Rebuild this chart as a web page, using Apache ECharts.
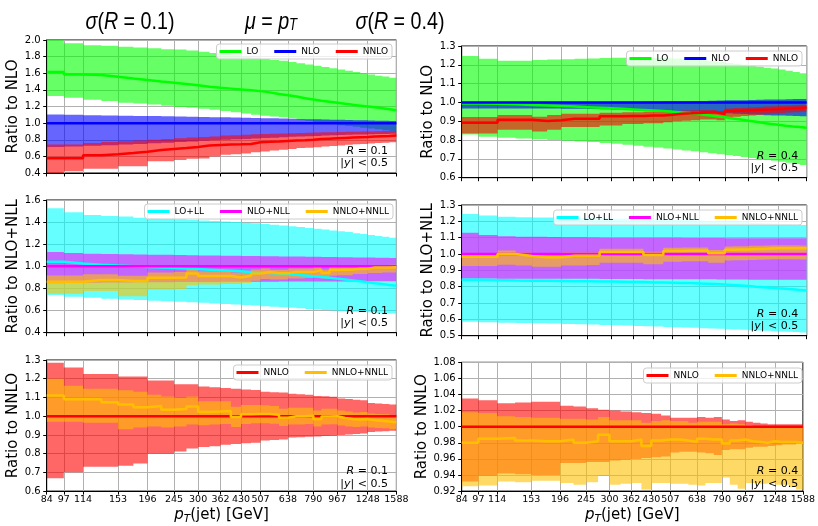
<!DOCTYPE html>
<html>
<head>
<meta charset="utf-8">
<script src="https://cdn.jsdelivr.net/npm/echarts@6/dist/echarts.min.js"></script>
<style>
  html, body { margin: 0; padding: 0; background: #ffffff; }
  #chart { width: 818px; height: 526px; }
</style>
</head>
<body>
<div id="chart"></div>
<script>
// Jet pT bin edges [GeV] and the labelled ticks on the log axis
const ptEdges = [84, 97, 114, 133, 153, 174, 196, 220, 245, 272, 300, 330, 362, 395, 430, 468, 507, 548, 592, 638, 686, 737, 790, 846, 905, 967, 1032, 1101, 1172, 1248, 1327, 1410, 1497, 1588];
const ptTicks = [84, 97, 114, 153, 196, 245, 300, 362, 430, 507, 638, 790, 967, 1248, 1588];

// ---- R = 0.1, ratio to NLO ----
const r1_LO     = [1.614,1.586,1.578,1.558,1.538,1.52,1.50,1.485,1.47,1.455,1.437,1.425,1.415,1.405,1.395,1.385,1.37,1.35,1.335,1.32,1.30,1.285,1.27,1.258,1.245,1.232,1.22,1.21,1.20,1.19,1.18,1.168,1.156];
const r1_LO_up  = [2.01,1.96,1.936,1.93,1.92,1.91,1.90,1.89,1.885,1.875,1.86,1.845,1.835,1.82,1.80,1.79,1.775,1.76,1.75,1.735,1.72,1.705,1.69,1.675,1.66,1.645,1.63,1.615,1.60,1.585,1.57,1.56,1.546];
const r1_LO_dn  = [1.325,1.305,1.28,1.265,1.245,1.235,1.225,1.21,1.195,1.185,1.172,1.16,1.145,1.13,1.115,1.10,1.09,1.08,1.07,1.06,1.045,1.03,1.015,1.0,0.99,0.975,0.965,0.955,0.945,0.935,0.925,0.915,0.905];
const r1_NLO    = [1.0,1.0,1.0,1.0,1.0,1.0,1.0,1.0,1.0,1.0,1.0,1.0,1.0,1.0,1.0,1.0,1.0,1.0,1.0,1.0,1.0,1.0,1.0,1.0,1.0,1.0,1.0,1.0,1.0,1.0,1.0,1.0,1.0];
const r1_NLO_up = [1.105,1.10,1.095,1.092,1.09,1.087,1.085,1.083,1.08,1.078,1.075,1.072,1.07,1.067,1.065,1.062,1.06,1.058,1.055,1.052,1.05,1.048,1.046,1.044,1.042,1.04,1.038,1.036,1.034,1.032,1.03,1.028,1.025];
const r1_NLO_dn = [0.713,0.72,0.728,0.735,0.743,0.75,0.757,0.765,0.772,0.78,0.787,0.795,0.80,0.805,0.81,0.815,0.82,0.825,0.83,0.835,0.84,0.843,0.846,0.85,0.853,0.856,0.86,0.862,0.864,0.866,0.868,0.87,0.872];
const r1_NNLO    = [0.577,0.577,0.613,0.625,0.64,0.657,0.677,0.69,0.70,0.713,0.73,0.738,0.742,0.745,0.75,0.77,0.775,0.78,0.785,0.79,0.795,0.80,0.808,0.813,0.818,0.822,0.826,0.83,0.834,0.838,0.842,0.846,0.85];
const r1_NNLO_up = [0.742,0.742,0.762,0.772,0.782,0.792,0.80,0.81,0.818,0.826,0.832,0.84,0.85,0.855,0.86,0.865,0.87,0.873,0.876,0.879,0.882,0.885,0.887,0.889,0.891,0.893,0.895,0.897,0.899,0.90,0.902,0.904,0.906];
const r1_NNLO_dn = [0.40,0.42,0.452,0.452,0.48,0.48,0.54,0.54,0.555,0.57,0.575,0.60,0.62,0.625,0.635,0.65,0.66,0.67,0.68,0.69,0.70,0.705,0.71,0.72,0.725,0.73,0.74,0.745,0.75,0.755,0.76,0.765,0.77];

// ---- R = 0.4, ratio to NLO ----
const r4_LO     = [0.995,0.993,0.99,0.987,0.984,0.981,0.978,0.975,0.972,0.969,0.966,0.963,0.96,0.957,0.954,0.95,0.946,0.942,0.937,0.932,0.927,0.921,0.915,0.909,0.903,0.897,0.891,0.886,0.881,0.876,0.872,0.869,0.866];
const r4_LO_up  = [1.247,1.232,1.222,1.222,1.225,1.228,1.23,1.232,1.234,1.236,1.238,1.238,1.238,1.237,1.236,1.235,1.233,1.23,1.227,1.224,1.22,1.215,1.21,1.205,1.20,1.195,1.19,1.185,1.18,1.175,1.168,1.162,1.155];
const r4_LO_dn  = [0.83,0.818,0.812,0.808,0.805,0.80,0.797,0.793,0.79,0.785,0.78,0.775,0.77,0.765,0.76,0.755,0.75,0.745,0.74,0.735,0.73,0.725,0.72,0.715,0.71,0.705,0.70,0.695,0.69,0.685,0.68,0.673,0.667];
const r4_NLO    = [1.0,1.0,1.0,1.0,1.0,1.0,1.0,1.0,1.0,1.0,1.0,1.0,1.0,1.0,1.0,1.0,1.0,1.0,1.0,1.0,1.0,1.0,1.0,1.0,1.0,1.0,1.0,1.0,1.0,1.0,1.0,1.0,1.0];
const r4_NLO_up = [1.003,1.003,1.003,1.003,1.003,1.003,1.003,1.003,1.003,1.003,1.004,1.004,1.004,1.005,1.005,1.006,1.006,1.007,1.008,1.008,1.009,1.01,1.011,1.012,1.012,1.013,1.014,1.015,1.016,1.016,1.017,1.018,1.018];
const r4_NLO_dn = [0.968,0.968,0.968,0.968,0.968,0.968,0.967,0.966,0.965,0.964,0.963,0.962,0.961,0.96,0.958,0.956,0.954,0.952,0.95,0.948,0.946,0.944,0.942,0.94,0.938,0.936,0.934,0.932,0.931,0.93,0.929,0.928,0.927];
const r4_NNLO    = [0.892,0.892,0.908,0.908,0.902,0.905,0.913,0.913,0.913,0.926,0.926,0.928,0.928,0.93,0.93,0.935,0.94,0.942,0.944,0.946,0.946,0.938,0.955,0.956,0.958,0.96,0.961,0.962,0.964,0.967,0.969,0.971,0.973];
const r4_NNLO_up = [0.922,0.922,0.933,0.933,0.924,0.933,0.94,0.94,0.94,0.945,0.945,0.948,0.948,0.95,0.95,0.952,0.955,0.957,0.958,0.96,0.96,0.955,0.968,0.97,0.972,0.974,0.976,0.978,0.98,0.982,0.984,0.986,0.988];
const r4_NNLO_dn = [0.835,0.835,0.855,0.855,0.845,0.855,0.87,0.87,0.87,0.878,0.878,0.885,0.885,0.89,0.89,0.895,0.90,0.903,0.906,0.91,0.91,0.905,0.92,0.924,0.928,0.931,0.934,0.937,0.94,0.943,0.946,0.948,0.95];

// ---- R = 0.1, ratio to NLO+NLL ----
const r1m_LOLL     = [1.042,1.025,1.015,1.007,1.0,0.995,0.99,0.985,0.98,0.975,0.97,0.965,0.96,0.955,0.95,0.945,0.94,0.935,0.929,0.923,0.917,0.91,0.903,0.896,0.889,0.881,0.873,0.865,0.857,0.848,0.84,0.832,0.824];
const r1m_LOLL_up  = [1.525,1.49,1.465,1.455,1.45,1.44,1.435,1.43,1.425,1.42,1.415,1.41,1.405,1.40,1.395,1.39,1.383,1.376,1.37,1.362,1.355,1.347,1.34,1.333,1.325,1.317,1.31,1.30,1.292,1.283,1.275,1.267,1.258];
const r1m_LOLL_dn  = [0.74,0.725,0.715,0.708,0.70,0.695,0.69,0.685,0.68,0.675,0.67,0.665,0.66,0.655,0.65,0.645,0.64,0.635,0.63,0.625,0.62,0.615,0.61,0.605,0.60,0.597,0.594,0.59,0.587,0.584,0.58,0.577,0.574];
const r1m_NLL      = [1.0,1.0,1.0,1.0,1.0,1.0,1.0,1.0,1.0,1.0,1.0,1.0,1.0,1.0,1.0,1.0,1.0,1.0,1.0,1.0,1.0,1.0,1.0,1.0,1.0,1.0,1.0,1.0,1.0,1.0,1.0,1.0,1.0];
const r1m_NLL_up   = [1.13,1.12,1.115,1.112,1.11,1.108,1.106,1.104,1.102,1.10,1.098,1.097,1.096,1.095,1.094,1.093,1.092,1.091,1.09,1.089,1.088,1.087,1.086,1.085,1.084,1.083,1.082,1.081,1.08,1.079,1.078,1.077,1.076];
const r1m_NLL_dn   = [0.848,0.85,0.852,0.854,0.855,0.856,0.857,0.857,0.858,0.858,0.859,0.859,0.86,0.86,0.86,0.861,0.861,0.861,0.862,0.862,0.862,0.863,0.863,0.863,0.864,0.864,0.864,0.865,0.865,0.865,0.865,0.866,0.866];
const r1m_NNLL     = [0.861,0.861,0.876,0.876,0.868,0.868,0.898,0.898,0.90,0.935,0.912,0.912,0.912,0.90,0.915,0.935,0.948,0.937,0.937,0.948,0.948,0.948,0.966,0.94,0.966,0.97,0.972,0.978,0.978,0.99,0.99,0.99,0.992];
const r1m_NNLL_up  = [0.918,0.918,0.928,0.928,0.915,0.915,0.945,0.945,0.948,0.975,0.955,0.955,0.955,0.945,0.958,0.972,0.98,0.97,0.97,0.98,0.98,0.98,0.995,0.97,0.995,1.0,1.0,1.005,1.005,1.012,1.012,1.012,1.015];
const r1m_NNLL_dn  = [0.753,0.753,0.777,0.777,0.73,0.73,0.79,0.79,0.795,0.83,0.835,0.835,0.84,0.84,0.85,0.87,0.885,0.88,0.88,0.89,0.89,0.895,0.91,0.89,0.915,0.92,0.92,0.93,0.93,0.94,0.94,0.945,0.945];

// ---- R = 0.4, ratio to NLO+NLL ----
const r4m_LOLL     = [0.842,0.84,0.838,0.837,0.836,0.835,0.834,0.833,0.832,0.831,0.83,0.829,0.828,0.826,0.825,0.824,0.823,0.822,0.82,0.818,0.816,0.813,0.81,0.807,0.804,0.80,0.797,0.794,0.79,0.787,0.784,0.78,0.776];
const r4m_LOLL_up  = [1.245,1.235,1.228,1.225,1.224,1.223,1.222,1.221,1.22,1.219,1.218,1.217,1.216,1.215,1.214,1.212,1.21,1.208,1.206,1.204,1.202,1.20,1.198,1.196,1.194,1.192,1.19,1.188,1.186,1.184,1.182,1.18,1.178];
const r4m_LOLL_dn  = [0.585,0.582,0.58,0.578,0.576,0.574,0.572,0.57,0.568,0.566,0.564,0.562,0.56,0.558,0.556,0.554,0.552,0.55,0.548,0.546,0.544,0.542,0.54,0.538,0.536,0.534,0.532,0.53,0.528,0.526,0.524,0.522,0.52];
const r4m_NLL      = [1.0,1.0,1.0,1.0,1.0,1.0,1.0,1.0,1.0,1.0,1.0,1.0,1.0,1.0,1.0,1.0,1.0,1.0,1.0,1.0,1.0,1.0,1.0,1.0,1.0,1.0,1.0,1.0,1.0,1.0,1.0,1.0,1.0];
const r4m_NLL_up   = [1.13,1.117,1.108,1.106,1.105,1.104,1.103,1.102,1.101,1.10,1.10,1.10,1.10,1.099,1.099,1.099,1.099,1.098,1.098,1.098,1.098,1.098,1.097,1.097,1.097,1.097,1.097,1.096,1.096,1.096,1.096,1.096,1.096];
const r4m_NLL_dn   = [0.85,0.85,0.849,0.849,0.849,0.848,0.848,0.848,0.848,0.847,0.847,0.847,0.847,0.846,0.846,0.846,0.846,0.845,0.845,0.845,0.845,0.844,0.844,0.844,0.844,0.843,0.843,0.843,0.843,0.842,0.842,0.842,0.842];
const r4m_NNLL     = [0.984,0.984,1.0,0.988,0.98,0.98,0.99,0.99,0.99,1.012,1.012,1.012,1.012,0.994,0.994,1.018,1.018,1.02,1.02,1.02,1.004,1.004,1.026,1.028,1.028,1.03,1.03,1.034,1.035,1.035,1.035,1.035,1.035];
const r4m_NNLL_up  = [1.004,1.004,1.022,1.01,1.0,1.0,1.01,1.01,1.01,1.032,1.032,1.032,1.032,1.014,1.014,1.038,1.038,1.04,1.04,1.04,1.024,1.024,1.046,1.048,1.048,1.05,1.05,1.052,1.053,1.053,1.053,1.053,1.052];
const r4m_NNLL_dn  = [0.926,0.926,0.935,0.93,0.922,0.922,0.93,0.93,0.932,0.946,0.946,0.946,0.946,0.938,0.938,0.952,0.952,0.955,0.955,0.955,0.946,0.946,0.96,0.962,0.962,0.964,0.965,0.967,0.968,0.968,0.968,0.968,0.967];

// ---- R = 0.1, ratio to NNLO ----
const r1n_NNLO     = [1.0,1.0,1.0,1.0,1.0,1.0,1.0,1.0,1.0,1.0,1.0,1.0,1.0,1.0,1.0,1.0,1.0,1.0,1.0,1.0,1.0,1.0,1.0,1.0,1.0,1.0,1.0,1.0,1.0,1.0,1.0,1.0,1.0];
const r1n_NNLO_up  = [1.285,1.26,1.225,1.225,1.212,1.212,1.19,1.19,1.17,1.17,1.158,1.155,1.15,1.146,1.142,1.14,1.13,1.128,1.126,1.12,1.117,1.114,1.108,1.106,1.104,1.095,1.092,1.088,1.085,1.07,1.068,1.065,1.062];
const r1n_NNLO_dn  = [0.668,0.70,0.73,0.73,0.735,0.748,0.80,0.80,0.812,0.828,0.836,0.84,0.848,0.852,0.855,0.858,0.87,0.873,0.876,0.886,0.888,0.89,0.892,0.894,0.896,0.90,0.902,0.905,0.908,0.915,0.918,0.92,0.922];
const r1n_NNLL     = [1.11,1.09,1.09,1.075,1.062,1.048,1.055,1.035,1.038,1.052,1.022,1.025,1.028,0.995,1.01,1.012,1.012,1.008,0.992,1.0,1.0,1.002,0.985,0.998,1.0,0.99,0.985,0.982,0.985,0.978,0.975,0.972,0.968];
const r1n_NNLL_up  = [1.20,1.163,1.146,1.146,1.138,1.13,1.115,1.105,1.10,1.105,1.08,1.08,1.08,1.05,1.06,1.06,1.058,1.055,1.04,1.045,1.045,1.045,1.03,1.04,1.04,1.03,1.025,1.02,1.022,1.015,1.012,1.01,1.005];
const r1n_NNLL_dn  = [0.97,0.97,0.965,0.965,0.93,0.94,0.945,0.94,0.945,0.955,0.952,0.955,0.958,0.942,0.958,0.962,0.962,0.96,0.948,0.955,0.955,0.958,0.945,0.955,0.957,0.95,0.945,0.942,0.945,0.94,0.937,0.935,0.932];

// ---- R = 0.4, ratio to NNLO ----
const r4n_NNLO     = [1.0,1.0,1.0,1.0,1.0,1.0,1.0,1.0,1.0,1.0,1.0,1.0,1.0,1.0,1.0,1.0,1.0,1.0,1.0,1.0,1.0,1.0,1.0,1.0,1.0,1.0,1.0,1.0,1.0,1.0,1.0,1.0,1.0];
const r4n_NNLO_up  = [1.035,1.033,1.029,1.03,1.031,1.031,1.026,1.025,1.023,1.021,1.02,1.019,1.018,1.017,1.016,1.014,1.011,1.011,1.011,1.012,1.011,1.012,1.009,1.007,1.008,1.006,1.005,1.004,1.003,1.003,1.003,1.003,1.003];
const r4n_NNLO_dn  = [0.932,0.939,0.942,0.941,0.94,0.94,0.955,0.955,0.956,0.956,0.958,0.959,0.96,0.961,0.962,0.963,0.968,0.969,0.969,0.968,0.967,0.965,0.971,0.972,0.972,0.974,0.975,0.975,0.976,0.977,0.978,0.978,0.979];
const r4n_NNLL     = [0.98,0.985,0.986,0.983,0.982,0.982,0.984,0.98,0.982,0.99,0.982,0.982,0.984,0.976,0.983,0.984,0.984,0.983,0.981,0.985,0.984,0.984,0.979,0.983,0.984,0.982,0.981,0.98,0.982,0.981,0.981,0.981,0.98];
const r4n_NNLL_up  = [1.018,1.017,1.013,1.012,1.011,1.011,1.01,1.01,1.009,1.012,1.008,1.008,1.008,1.005,1.007,1.008,1.007,1.007,1.005,1.006,1.006,1.006,1.003,1.004,1.003,1.002,1.001,1.0,1.0,1.0,0.999,0.999,0.999];
const r4n_NNLL_dn  = [0.926,0.927,0.932,0.931,0.933,0.933,0.93,0.928,0.931,0.94,0.928,0.929,0.93,0.922,0.93,0.93,0.929,0.929,0.928,0.927,0.93,0.93,0.937,0.928,0.923,0.93,0.93,0.929,0.93,0.928,0.928,0.925,0.922];

// ---------------------------------------------------------------
const FONT = 'DejaVu Sans';
const C = { LO: '#00ff00', NLO: '#0000ff', NNLO: '#ff0000', LOLL: '#00ffff', NLL: '#ff00ff', NNLL: '#ffbf00' };

const panels = [
  { grid: { left: 46.7, top: 40, width: 349.7, height: 133 }, y: [0.4, 2.0, 0.2, 1], yname: 'Ratio to NLO', gap: 22, bottom: false, tag: '0.1',
    legend: { right: 426, top: 44 },
    curves: [['LO', C.LO, r1_LO, r1_LO_dn, r1_LO_up], ['NLO', C.NLO, r1_NLO, r1_NLO_dn, r1_NLO_up], ['NNLO', C.NNLO, r1_NNLO, r1_NNLO_dn, r1_NNLO_up]] },
  { grid: { left: 461.7, top: 46, width: 345, height: 131.7 }, y: [0.6, 1.3, 0.1, 1], yname: 'Ratio to NLO', gap: 21, bottom: false, tag: '0.4',
    legend: { right: 16, top: 51 },
    curves: [['LO', C.LO, r4_LO, r4_LO_dn, r4_LO_up], ['NLO', C.NLO, r4_NLO, r4_NLO_dn, r4_NLO_up], ['NNLO', C.NNLO, r4_NNLO, r4_NNLO_dn, r4_NNLO_up]] },
  { grid: { left: 46.7, top: 200, width: 349.7, height: 132.7 }, y: [0.4, 1.6, 0.2, 1], yname: 'Ratio to NLO+NLL', gap: 22, bottom: false, tag: '0.1',
    legend: { right: 425, top: 204 },
    curves: [['LO+LL', C.LOLL, r1m_LOLL, r1m_LOLL_dn, r1m_LOLL_up], ['NLO+NLL', C.NLL, r1m_NLL, r1m_NLL_dn, r1m_NLL_up], ['NNLO+NNLL', C.NNLL, r1m_NNLL, r1m_NNLL_dn, r1m_NNLL_up]] },
  { grid: { left: 461.7, top: 205, width: 345, height: 130.7 }, y: [0.5, 1.3, 0.1, 1], yname: 'Ratio to NLO+NLL', gap: 21, bottom: false, tag: '0.4',
    legend: { right: 16, top: 210 },
    curves: [['LO+LL', C.LOLL, r4m_LOLL, r4m_LOLL_dn, r4m_LOLL_up], ['NLO+NLL', C.NLL, r4m_NLL, r4m_NLL_dn, r4m_NLL_up], ['NNLO+NNLL', C.NNLL, r4m_NNLL, r4m_NNLL_dn, r4m_NNLL_up]] },
  { grid: { left: 46.7, top: 360, width: 349.7, height: 133.3 }, y: [0.6, 1.3, 0.1, 1], yname: 'Ratio to NNLO', gap: 22, bottom: true, tag: '0.1',
    legend: { right: 426, top: 365 },
    curves: [['NNLO', C.NNLO, r1n_NNLO, r1n_NNLO_dn, r1n_NNLO_up], ['NNLO+NNLL', C.NNLL, r1n_NNLL, r1n_NNLL_dn, r1n_NNLL_up]] },
  { grid: { left: 461.7, top: 362.3, width: 345, height: 131 }, y: [0.92, 1.08, 0.02, 2], yname: 'Ratio to NNLO', gap: 21, bottom: true, tag: '0.4',
    legend: { right: 16, top: 368 },
    curves: [['NNLO', C.NNLO, r4n_NNLO, r4n_NNLO_dn, r4n_NNLO_up], ['NNLO+NNLL', C.NNLL, r4n_NNLL, r4n_NNLL_dn, r4n_NNLL_up]] }
];

// step-wise points: each bin value starts at its lower edge, the last value closes at the upper edge
function stepData(vals) {
  return ptEdges.map((e, k) => [e, vals[Math.min(k, vals.length - 1)]]);
}

// one translucent stepped polygon per band, placed through the axes' own coordinate mapping
function bandSeries(i, name, color, dn, up) {
  return {
    type: 'custom', name: name + ' band', xAxisIndex: i, yAxisIndex: i, silent: true, z: 2,
    data: [[ptEdges[0], dn[0], up[0]]],
    encode: { x: 0, y: [1, 2] },
    renderItem: (params, api) => {
      const top = [], bot = [];
      for (let k = 0; k < up.length; k++) {
        top.push(api.coord([ptEdges[k], up[k]]), api.coord([ptEdges[k + 1], up[k]]));
        bot.push(api.coord([ptEdges[k], dn[k]]), api.coord([ptEdges[k + 1], dn[k]]));
      }
      const cs = params.coordSys;
      return {
        type: 'polygon',
        shape: { points: top.concat(bot.reverse()) },
        style: { fill: color, opacity: 0.6 },
        clipPath: { type: 'rect', shape: { x: cs.x, y: cs.y, width: cs.width, height: cs.height } }
      };
    }
  };
}

const grids = [], xAxes = [], yAxes = [], series = [], legends = [], graphics = [];

panels.forEach((p, i) => {
  grids.push(Object.assign({ show: true, borderColor: '#000', borderWidth: 1, backgroundColor: 'transparent' }, p.grid));

  xAxes.push({
    type: 'log', logBase: 10, gridIndex: i, min: 84, max: 1588,
    axisLine: { show: true, onZero: false, lineStyle: { color: '#000', width: 1 } },
    axisTick: { show: true, customValues: ptTicks, length: 3.5, lineStyle: { color: '#000' } },
    axisLabel: { show: p.bottom, customValues: ptTicks, formatter: v => String(Math.round(v)),
                 fontSize: 9.5, color: '#000', fontFamily: FONT, margin: 3, hideOverlap: false },
    splitLine: { show: true, lineStyle: { color: '#b0b0b0', width: 1 } },
    minorTick: { show: false }, minorSplitLine: { show: false },
    name: p.bottom ? '{i|p}{s|T}(jet) [GeV]' : '', nameLocation: 'middle', nameGap: 12,
    nameTextStyle: { fontSize: 15, color: '#000', fontFamily: FONT, lineHeight: 20,
      rich: { i: { fontStyle: 'italic', fontSize: 15, fontFamily: FONT, color: '#000', lineHeight: 20 },
              s: { fontStyle: 'italic', fontSize: 10.5, fontFamily: FONT, color: '#000', lineHeight: 12, verticalAlign: 'bottom' } } }
  });

  yAxes.push({
    type: 'value', gridIndex: i, min: p.y[0], max: p.y[1], interval: p.y[2],
    axisLine: { show: true, onZero: false, lineStyle: { color: '#000', width: 1 } },
    axisTick: { show: true, length: 3.5, lineStyle: { color: '#000' } },
    axisLabel: { formatter: v => v.toFixed(p.y[3]), fontSize: 10, color: '#000', fontFamily: FONT, margin: 6 },
    splitLine: { show: true, lineStyle: { color: '#b0b0b0', width: 1 } },
    name: p.yname, nameLocation: 'middle', nameGap: p.gap,
    nameTextStyle: { fontSize: 15, color: '#000', fontFamily: FONT }
  });

  // uncertainty bands (drawn first, translucent so overlaps blend)
  p.curves.forEach(([name, color, mid, dn, up]) => {
    series.push(bandSeries(i, name, color, dn, up));
  });
  // central values
  p.curves.forEach(([name, color, mid]) => {
    series.push({
      type: 'line', name: name, xAxisIndex: i, yAxisIndex: i,
      data: stepData(mid), step: 'end', symbol: 'none', showSymbol: false, silent: true,
      lineStyle: { color: color, width: 2.5 }, itemStyle: { color: color }, z: 4
    });
  });

  legends.push({
    data: p.curves.map(c => c[0]), right: p.legend.right, top: p.legend.top, orient: 'horizontal',
    icon: 'rect', itemWidth: 22, itemHeight: 3, itemGap: 16, padding: [3, 4, 3, 3],
    backgroundColor: 'rgba(255,255,255,0.8)', borderColor: '#cccccc', borderWidth: 1, borderRadius: 3,
    textStyle: { fontSize: 9, color: '#000', fontFamily: FONT }, selectedMode: false, z: 10
  });

  const xr = p.grid.left + p.grid.width - 8.5;
  const yb = p.grid.top + p.grid.height;
  const it = { fontStyle: 'italic', fontSize: 11, fontFamily: FONT, fill: '#000' };
  graphics.push({ type: 'text', x: xr, y: yb - 22, silent: true, z: 10,
    style: { text: '{i|R} = ' + p.tag, rich: { i: it }, fontSize: 11, fontFamily: FONT, fill: '#000', align: 'right', verticalAlign: 'middle' } });
  graphics.push({ type: 'text', x: xr, y: yb - 9.5, silent: true, z: 10,
    style: { text: '|{i|y}| < 0.5', rich: { i: it }, fontSize: 11, fontFamily: FONT, fill: '#000', align: 'right', verticalAlign: 'middle' } });
});

// column headings
const TFONT = 'Liberation Sans';
const tIt = { fontStyle: 'italic', fontSize: 24, fontFamily: TFONT, fill: '#000' };
const tSub = { fontStyle: 'italic', fontSize: 16, fontFamily: TFONT, fill: '#000', verticalAlign: 'bottom', lineHeight: 14 };
[['{i|σ}({i|R} = 0.1)', 130], ['{i|μ} = {i|p}{s|T}', 271], ['{i|σ}({i|R} = 0.4)', 400]].forEach(([t, x]) => {
  graphics.push({ type: 'text', x: x, y: 22, scaleX: 0.82, silent: true,
    style: { text: t, rich: { i: tIt, s: tSub }, fontSize: 24, fontFamily: TFONT, fill: '#000', align: 'center', verticalAlign: 'middle' } });
});

const chart = echarts.init(document.getElementById('chart'), null, { renderer: 'canvas' });
chart.setOption({
  animation: false,
  backgroundColor: '#ffffff',
  textStyle: { fontFamily: FONT },
  grid: grids, xAxis: xAxes, yAxis: yAxes, series: series, legend: legends, graphic: graphics
});
</script>
</body>
</html>
